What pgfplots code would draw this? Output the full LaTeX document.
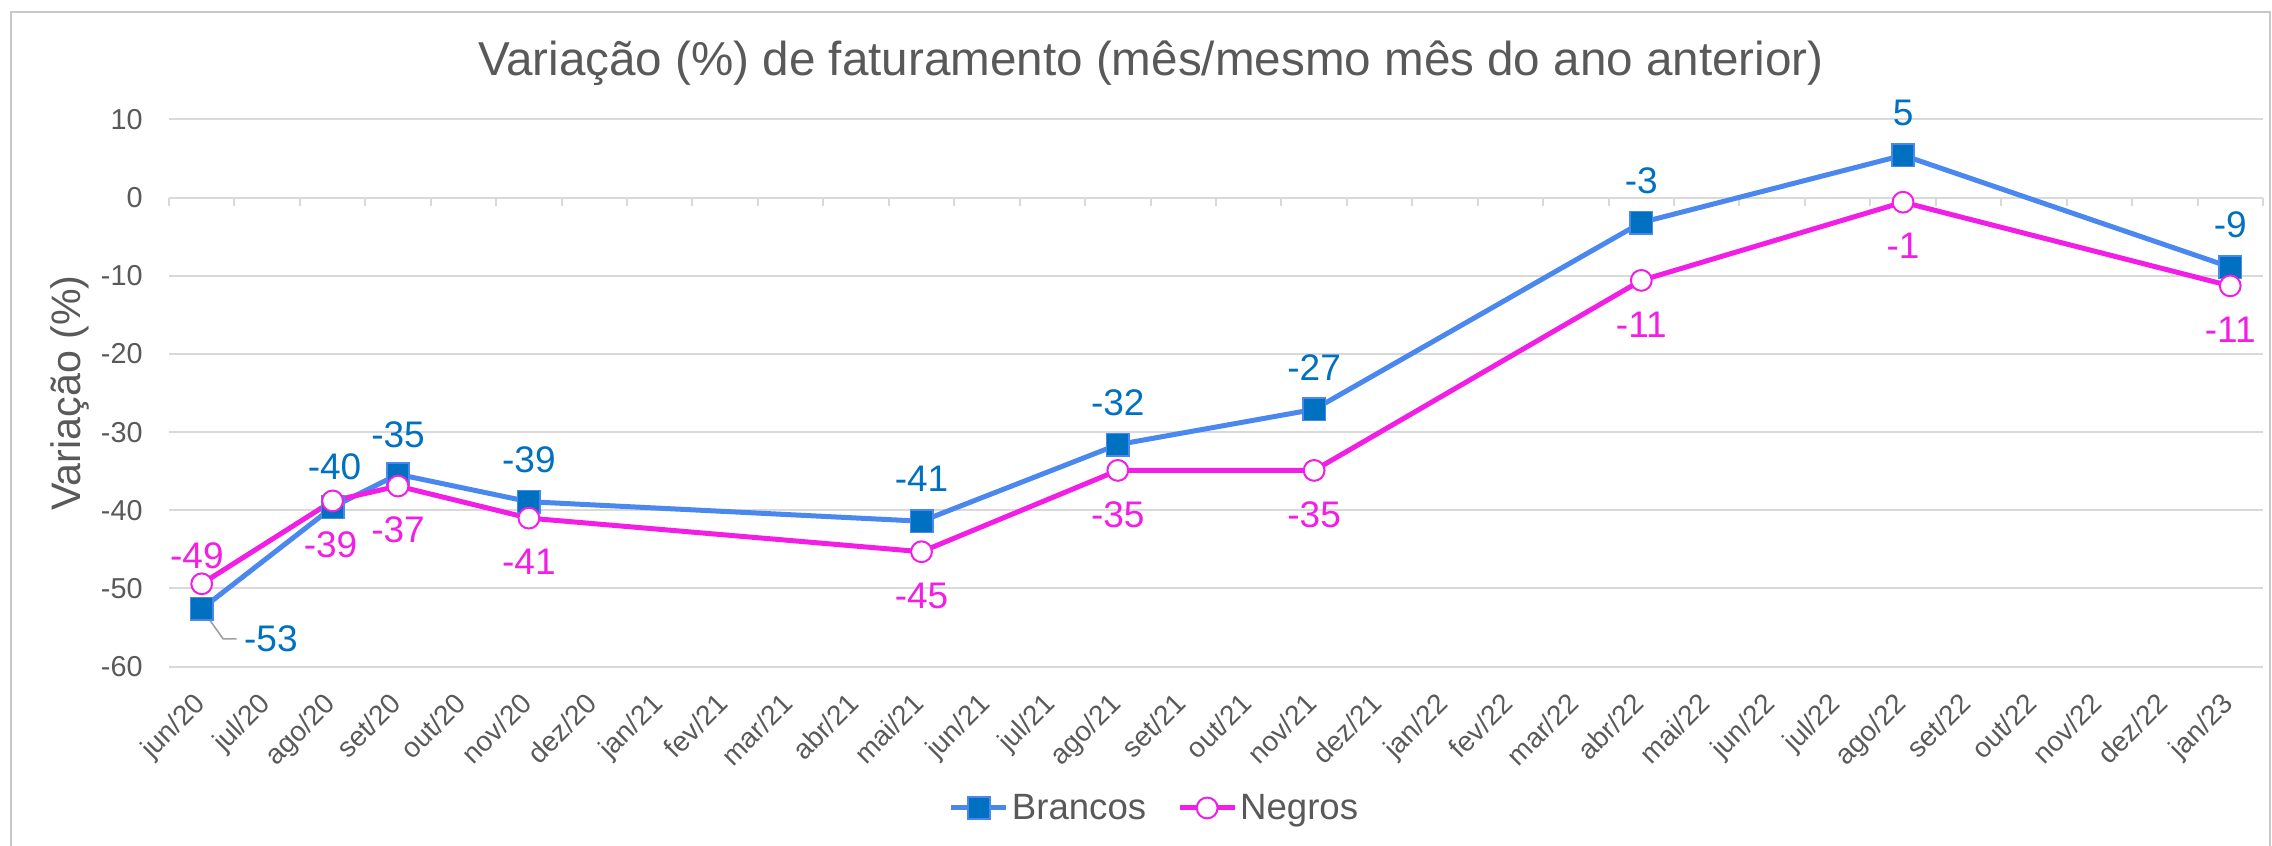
\documentclass[border=0pt]{standalone}
\usepackage{fontspec}
\setmainfont{Liberation Sans}
\usepackage{pgfplots}
\usepackage{pgfplotstable}
\pgfplotsset{compat=1.18}
\definecolor{txtgray}{HTML}{595959}
\definecolor{gridgray}{HTML}{D9D9D9}
\definecolor{bline}{HTML}{4A88F0}
\definecolor{bfill}{HTML}{0070C0}
\definecolor{nline}{HTML}{F21EE6}
\definecolor{framegray}{HTML}{C8C8C8}

\pgfplotstableread{
x y lab dx dy
0 -52.6 -53 34.6 -15
2 -39.6 -40 1 20
3 -35.4 -35 0 20
5 -38.9 -39 0 21
11 -41.4 -41 0 21
14 -31.6 -32 0 21
17 -27.1 -27 0 21
22 -3.2 -3 0 21
26 5.4 5 0 21
31 -8.9 -9 0 21
}\brancos

\pgfplotstableread{
x y lab dx dy
0 -49.4 -49 -2.4 14
2 -38.8 -39 -1 -22
3 -36.9 -37 0 -22
5 -41.0 -41 0 -22
11 -45.3 -45 0 -22
14 -34.9 -35 0 -22
17 -34.9 -35 0 -22
22 -10.6 -11 0 -22
26 -0.6 -1 0 -22
31 -11.3 -11 0 -22
}\negros

\begin{document}
\begin{tikzpicture}
\path[use as bounding box] (-84.5pt,-89.65pt) rectangle (1051.5pt,333.35pt);
\begin{axis}[
  at={(0pt,0pt)}, anchor=south west,
  scale only axis,
  width=1047pt, height=273.7pt,
  xmin=-0.5, xmax=31.5, ymin=-60, ymax=10,
  ytick={-60,-50,...,10},
  xtick={0,...,31},
  xticklabels={jun/20,jul/20,ago/20,set/20,out/20,nov/20,dez/20,jan/21,fev/21,mar/21,abr/21,mai/21,jun/21,jul/21,ago/21,set/21,out/21,nov/21,dez/21,jan/22,fev/22,mar/22,abr/22,mai/22,jun/22,jul/22,ago/22,set/22,out/22,nov/22,dez/22,jan/23},
  axis line style={draw=none},
  major tick length=0pt,
  ymajorgrids,
  grid style={gridgray, line width=1pt},
  /pgf/number format/assume math mode=true,
  yticklabel style={font=\fontsize{14.4}{17}\selectfont, text=txtgray, inner sep=0pt, xshift=-13pt},
  xticklabel style={font=\fontsize{14}{17}\selectfont, text=txtgray, xshift=-5pt, yshift=-12pt, rotate=45, anchor=north east, inner sep=0pt},
  ylabel={Variação (\%)},
  ylabel style={at={(axis description cs:-0.0473,0.5)}, anchor=center, rotate=0, font=\fontsize{20.6}{24}\selectfont, text=txtgray},
  title={Variação (\%) de faturamento (mês/mesmo mês do ano anterior)},
  title style={at={(axis description cs:0.4689,1.0572)}, anchor=base, font=\fontsize{23.8}{28}\selectfont, text=txtgray},
  clip=false,
  legend columns=2,
  legend style={at={(axis description cs:0.4709,-0.2581)}, anchor=center, draw=none, fill=none,
    font=\fontsize{18.3}{22}\selectfont, text=txtgray,
    nodes={inner xsep=1.5pt, inner ysep=0pt},
    /tikz/every even column/.append style={column sep=14pt}},
  legend image code/.code={\draw[mark repeat=2,mark phase=2] plot coordinates {(0pt,0pt) (13.75pt,0pt) (27.5pt,0pt)};},
  every node near coord/.append style={anchor=center, font=\fontsize{18.5}{22}\selectfont, inner sep=0pt},
]
\pgfplotsinvokeforeach{0,...,32}{\draw[gridgray, line width=1pt] (axis cs:#1-0.5,0) -- ([yshift=-4pt]axis cs:#1-0.5,0);}

\addplot[bline, line width=2.5pt, mark=square*, mark size=5.6pt,
  mark options={fill=bfill, draw=bline, line width=0.8pt},
  point meta=explicit symbolic,
  nodes near coords,
  visualization depends on={\thisrow{dx} \as \dx},
  visualization depends on={\thisrow{dy} \as \dy},
  nodes near coords style={text=bfill, xshift=\dx pt, yshift=\dy pt}]
  table[x=x, y=y, meta=lab]{\brancos};
\addlegendentry{Brancos}

\addplot[nline, line width=2.5pt, mark=*, mark size=5.2pt,
  mark options={fill=white, draw=nline, line width=1pt},
  point meta=explicit symbolic,
  nodes near coords,
  visualization depends on={\thisrow{dx} \as \dx},
  visualization depends on={\thisrow{dy} \as \dy},
  nodes near coords style={text=nline, xshift=\dx pt, yshift=\dy pt}]
  table[x=x, y=y, meta=lab]{\negros};
\addlegendentry{Negros}

\draw[gray!75, line width=0.8pt] ([xshift=4.1pt,yshift=-5.75pt]axis cs:0,-52.6) -- ([xshift=10.7pt,yshift=-15pt]axis cs:0,-52.6) -- ([xshift=17.5pt,yshift=-15pt]axis cs:0,-52.6);
\end{axis}
\draw[framegray, line width=1pt] (-79pt,-100pt) rectangle (1050.5pt,327.35pt);
\end{tikzpicture}
\end{document}
